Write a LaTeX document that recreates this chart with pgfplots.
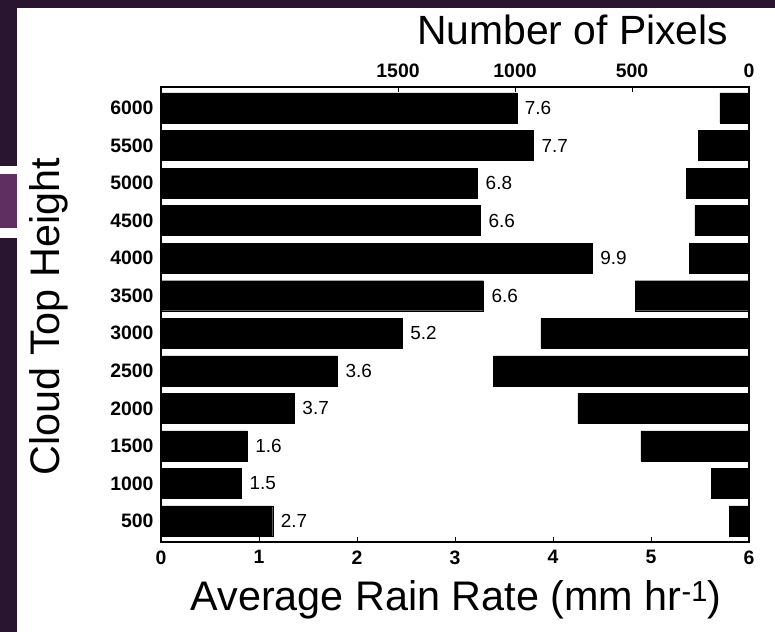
\documentclass[border=0pt]{standalone}
\usepackage{pgfplots}
\pgfplotsset{compat=1.18}
\usepackage{fontspec}
\setmainfont{Liberation Sans}
\definecolor{bgdark}{HTML}{2A1530}
\definecolor{bglight}{HTML}{5F2F62}
\begin{document}
\begin{tikzpicture}[x=1bp,y=1bp]
\useasboundingbox (0,0) rectangle (775,632);
\fill[white] (0,0) rectangle (775,632);
\fill[bgdark] (0,624) rectangle (775,632);
\fill[bgdark] (0,0) rectangle (17,632);
\fill[white] (0,394) rectangle (17,466);
\fill[bglight] (0,404) rectangle (17,458);
\pgfplotsset{
  common/.style={
    at={(161bp,90bp)}, anchor=south west,
    scale only axis, width=588bp, height=455bp,
    ymin=220, ymax=6280,
    xbar, bar width=400,
    tick align=inside,
    major tick length=5bp,
    axis line style={line width=1.2bp, black},
    tick style={line width=1bp, black},
    ticklabel style={font=\fontsize{19.5}{21}\selectfont\bfseries},
    /pgf/number format/assume math mode=true,
    /pgf/number format/1000 sep={},
    scaled x ticks=false,
  }
}
\begin{axis}[common,
  xmin=0, xmax=6,
  xtick={0,...,6}, ytick={500,1000,...,6000},
  xtick pos=lower, ytick pos=left,
  y tick style={draw=none},
  xticklabel style={yshift=-5bp},
  yticklabel style={xshift=-4bp},
  xlabel={Average Rain Rate (mm hr\textsuperscript{-1})},
  xlabel style={at={(axis description cs:0.502,-0.1495)}, anchor=base, font=\fontsize{41.5}{46}\selectfont},
  ylabel={Cloud Top Height},
  ylabel style={at={(axis description cs:-0.1718,0.495)}, anchor=base, font=\fontsize{41.5}{46}\selectfont},
  nodes near coords, point meta=explicit symbolic,
  nodes near coords style={font=\fontsize{19}{21}\selectfont, anchor=west, inner sep=0pt, xshift=8bp},
]
\addplot[fill=black, draw=black] coordinates {
 (3.63,6000) [7.6]
 (3.80,5500) [7.7]
 (3.23,5000) [6.8]
 (3.26,4500) [6.6]
 (4.40,4000) [9.9]
 (3.29,3500) [6.6]
 (2.46,3000) [5.2]
 (1.80,2500) [3.6]
 (1.36,2000) [3.7]
 (0.88,1500) [1.6]
 (0.82,1000) [1.5]
 (1.14,500) [2.7]
};
\end{axis}
\begin{axis}[common,
  xmin=0, xmax=2513, x dir=reverse,
  xtick={0,500,1000,1500}, ytick=\empty,
  xtick pos=upper, xticklabel pos=upper,
  xticklabel style={yshift=6bp},
  xlabel={Number of Pixels},
  xlabel style={at={(axis description cs:0.70,1.0923)}, anchor=base, font=\fontsize{41}{46}\selectfont},
]
\addplot[fill=black, draw=black] coordinates {
 (124,6000) (218,5500) (269,5000) (231,4500) (256,4000) (487,3500)
 (889,3000) (1094,2500) (731,2000) (462,1500) (162,1000) (85,500)
};
\end{axis}
\end{tikzpicture}
\end{document}
